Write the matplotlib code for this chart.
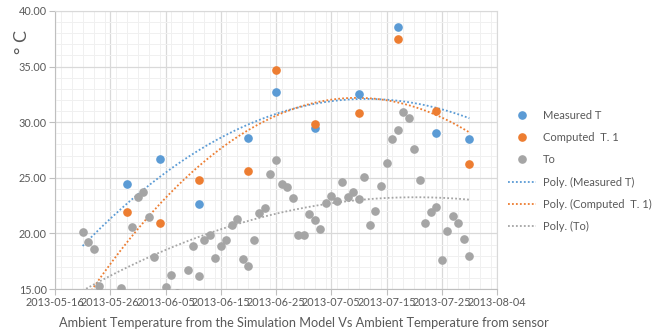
import numpy as np
import pandas as pd
import matplotlib
matplotlib.use("Agg")
import matplotlib.pyplot as plt
import matplotlib.dates as mdates
from matplotlib.ticker import MultipleLocator, FormatStrFormatter
from matplotlib.lines import Line2D

# values
measured_dates = ["2013-05-29", "2013-06-04", "2013-06-11", "2013-06-20", "2013-06-25",
                  "2013-07-02", "2013-07-10", "2013-07-17", "2013-07-24", "2013-07-30"]
measured_t = [24.4, 26.7, 22.6, 28.6, 32.7, 29.5, 32.5, 38.6, 29.0, 28.5]
computed_t1 = [21.9, 20.9, 24.8, 25.6, 34.7, 29.8, 30.8, 37.5, 31.0, 26.2]

# To: days after 2013-05-16 (days 9-11, 13, 19, 22, 23 fall below the 15 floor, estimated)
base_date = "2013-05-16"
to_days = [5, 6, 7, 8, 9, 10, 11, 12, 13, 14, 15, 16, 17, 18, 19, 20, 21, 22, 23, 24,
           25, 26, 27, 28, 29, 30, 31,
           32, 33, 34, 35, 36, 37, 38, 39, 40, 41, 42, 43, 44, 45, 46, 47, 48, 49, 50, 51,
           52, 53, 54, 55, 56, 57, 58, 59, 60, 61, 62, 63, 64, 65, 66, 67, 68, 69, 70, 71,
           72, 73, 74, 75]
to_vals = [20.1, 19.2, 18.6, 15.3, 14.0, 13.6, 14.2, 15.1, 13.8, 20.6, 23.3, 23.7, 21.5, 17.9,
           14.5, 15.2, 16.3, 14.6, 14.3, 16.7, 18.9,
           16.2, 19.4, 19.9, 17.8, 18.9, 19.4, 20.8, 21.3, 17.7, 17.1, 19.4, 21.8, 22.3, 25.3,
           26.6, 24.4, 24.2, 23.2, 19.9, 19.9, 21.7, 21.2, 20.4, 22.7, 23.4, 22.9, 24.6, 23.3,
           23.7, 23.1, 25.1, 20.8, 22.0, 24.3, 26.3, 28.5, 29.3, 30.9, 30.4, 27.6, 24.8, 20.9,
           21.9, 22.4, 17.6, 20.2, 21.6, 20.9, 19.5, 18.0]

x_ticks = ["2013-05-16", "2013-05-26", "2013-06-05", "2013-06-15", "2013-06-25",
           "2013-07-05", "2013-07-15", "2013-07-25", "2013-08-04"]

BLUE = "#5B9BD5"
ORANGE = "#ED7D31"
GRAY = "#A5A5A5"
TXT = "#595959"

plt.rcParams["font.family"] = ["Lato", "DejaVu Sans"]

x_meas = mdates.date2num(pd.to_datetime(measured_dates))
x_to = mdates.date2num(pd.Timestamp(base_date) + pd.to_timedelta(to_days, unit="D"))
x_ticks_num = mdates.date2num(pd.to_datetime(x_ticks))

fig = plt.figure(figsize=(6.56, 3.32), dpi=100)
ax = fig.add_axes([55 / 656, 1 - 289 / 332, 442 / 656, 278 / 332])

ax.set_xlim(x_ticks_num[0], x_ticks_num[-1])
ax.set_ylim(15, 40)
ax.set_xticks(x_ticks_num)
ax.set_xticklabels(x_ticks)
ax.xaxis.set_minor_locator(MultipleLocator(2))
ax.yaxis.set_major_locator(MultipleLocator(5))
ax.yaxis.set_minor_locator(MultipleLocator(1))
ax.yaxis.set_major_formatter(FormatStrFormatter("%.2f"))

ax.grid(which="major", color="#D9D9D9", linewidth=0.9, zorder=0)
ax.grid(which="minor", color="#F0F0F0", linewidth=0.7, zorder=0)
ax.set_axisbelow(True)
for side in ["top", "right"]:
    ax.spines[side].set_color("#D9D9D9")
for side in ["left", "bottom"]:
    ax.spines[side].set_color("#BFBFBF")
ax.tick_params(which="major", length=4, color="#BFBFBF", labelsize=7.8, labelcolor=TXT, pad=2)
ax.tick_params(which="minor", length=0)

ms = 5.2
ax.plot(x_meas, measured_t, "o", color=BLUE, ms=ms, zorder=3)
ax.plot(x_meas, computed_t1, "o", color=ORANGE, ms=ms, zorder=3)
ax.plot(x_to, to_vals, "o", color=GRAY, ms=ms, zorder=3)

# second order polynomial trendlines over the full date range
xs = np.linspace(x_to.min(), x_to.max(), 200)
dot = (0, (1, 1.2))
for xv, yv, c in [(x_meas, measured_t, BLUE), (x_meas, computed_t1, ORANGE), (x_to, to_vals, GRAY)]:
    coef = np.polyfit(xv - xv.min(), yv, 2)
    ax.plot(xs, np.polyval(coef, xs - xv.min()), linestyle=dot, color=c, lw=1.3, zorder=2)

fig.text(22 / 656, 1 - 42 / 332, "° C", rotation=90, fontsize=13, color=TXT, ha="center", va="center")
fig.text(304 / 656, 1 - 323 / 332,
         "Ambient Temperature from the Simulation Model Vs Ambient Temperature from sensor",
         fontsize=9.2, color=TXT, ha="center", va="center")

handles = [
    Line2D([], [], marker="o", linestyle="none", color=BLUE, ms=ms),
    Line2D([], [], marker="o", linestyle="none", color=ORANGE, ms=ms),
    Line2D([], [], marker="o", linestyle="none", color=GRAY, ms=ms),
    Line2D([], [], linestyle=dot, color=BLUE, lw=1.3),
    Line2D([], [], linestyle=dot, color=ORANGE, lw=1.3),
    Line2D([], [], linestyle=dot, color=GRAY, lw=1.3),
]
labels = ["Measured T", "Computed  T. 1", "To", "Poly. (Measured T)",
          "Poly. (Computed  T. 1)", "Poly. (To)"]
fig.legend(handles, labels, loc="center left", bbox_to_anchor=(502 / 656, 1 - 171 / 332),
           frameon=False, fontsize=8, labelcolor=TXT, handlelength=2.6, handletextpad=0.6,
           labelspacing=1.0, borderpad=0)

fig.savefig("out.png", dpi=100)
